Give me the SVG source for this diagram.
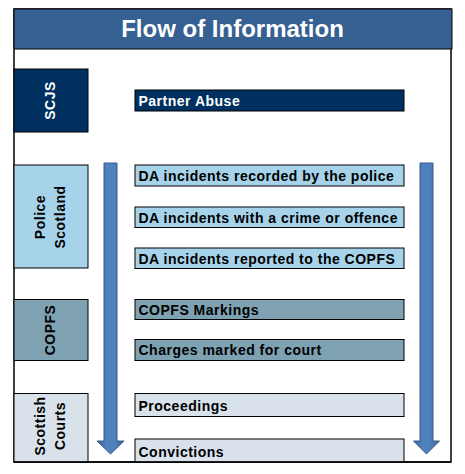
<svg xmlns="http://www.w3.org/2000/svg" width="465" height="474" viewBox="0 0 465 474">
<defs>
<style>
text{font-family:"Liberation Sans",Arial,sans-serif;font-weight:bold}
.row{font-size:14px;letter-spacing:0.5px}
.side{font-size:14px;letter-spacing:0.5px;text-anchor:middle}
.bx{stroke:#000;stroke-width:1}
</style>
<linearGradient id="ag" x1="0" y1="0" x2="1" y2="0">
<stop offset="0" stop-color="#3A6192"/>
<stop offset="0.35" stop-color="#4F81BD"/>
<stop offset="0.65" stop-color="#4F81BD"/>
<stop offset="1" stop-color="#3A6192"/>
</linearGradient>
</defs>
<rect x="0" y="0" width="465" height="474" fill="#fff"/>
<g id="frame">
<rect x="14" y="9" width="437" height="453" fill="#fff" stroke="#000" stroke-width="1.5"/>
</g>
<g id="header">
<rect x="14" y="9" width="438" height="40" fill="#366092" stroke="#000" stroke-width="1"/>
<text x="232.5" y="37" font-size="24" fill="#fff" text-anchor="middle">Flow of Information</text>
</g>
<g id="connectors">
<path d="M104,163 H117 V441 H124 L110.5,454 L97,441 H104 Z" fill="url(#ag)" stroke="#385D8A" stroke-width="1"/>
<path d="M420,163 H433 V441 H439.5 L426.5,454 L413.5,441 H420 Z" fill="url(#ag)" stroke="#385D8A" stroke-width="1"/>
</g>
<g id="scjs">
<rect class="bx" x="14" y="69" width="74" height="63" fill="#003060"/>
<text class="side" transform="translate(0,100.5) rotate(-90)" x="0" y="55" fill="#fff">SCJS</text>
</g>
<g id="partner-abuse">
<rect class="bx" x="135" y="90" width="269" height="21" fill="#00305F"/>
<text class="row" x="138.5" y="105.5" fill="#fff">Partner Abuse</text>
</g>
<g id="police-scotland">
<rect class="bx" x="14" y="165" width="74" height="103" fill="#A6D3EA"/>
<text class="side" transform="translate(0,217) rotate(-90)" fill="#000"><tspan x="0" y="45">Police</tspan><tspan x="0" y="65">Scotland</tspan></text>
</g>
<g id="da-recorded">
<rect class="bx" x="135" y="165" width="269" height="21" fill="#A6D3EA"/>
<text class="row" x="138.5" y="180.8">DA incidents recorded by the police</text>
</g>
<g id="da-crime">
<rect class="bx" x="135" y="207" width="269" height="20.5" fill="#A6D3EA"/>
<text class="row" x="138.5" y="222.5">DA incidents with a crime or offence</text>
</g>
<g id="da-reported">
<rect class="bx" x="135" y="248" width="269" height="20.5" fill="#A6D3EA"/>
<text class="row" x="138.5" y="263.7">DA incidents reported to the COPFS</text>
</g>
<g id="copfs">
<rect class="bx" x="14" y="299.5" width="74" height="61" fill="#7FA2B3"/>
<text class="side" transform="translate(0,330) rotate(-90)" x="0" y="55" fill="#000">COPFS</text>
</g>
<g id="copfs-markings">
<rect class="bx" x="135" y="299.5" width="269" height="20" fill="#7FA2B3"/>
<text class="row" x="138.5" y="314.8">COPFS Markings</text>
</g>
<g id="charges">
<rect class="bx" x="135" y="339.5" width="269" height="21" fill="#7FA2B3"/>
<text class="row" x="138.5" y="355.3">Charges marked for court</text>
</g>
<g id="scottish-courts">
<rect class="bx" x="14" y="393.5" width="74" height="68.5" fill="#D9E2EA"/>
<text class="side" transform="translate(0,426) rotate(-90)" fill="#000"><tspan x="0" y="45">Scottish</tspan><tspan x="0" y="65">Courts</tspan></text>
</g>
<g id="proceedings">
<rect class="bx" x="135" y="393.5" width="269" height="23" fill="#D9E2EA"/>
<text class="row" x="138.5" y="410.5">Proceedings</text>
</g>
<g id="convictions">
<rect class="bx" x="135" y="439" width="269" height="23" fill="#D9E2EA"/>
<text class="row" x="138.5" y="457">Convictions</text>
</g>
<line x1="14" y1="462" x2="451" y2="462" stroke="#000" stroke-width="1.5"/>
</svg>
